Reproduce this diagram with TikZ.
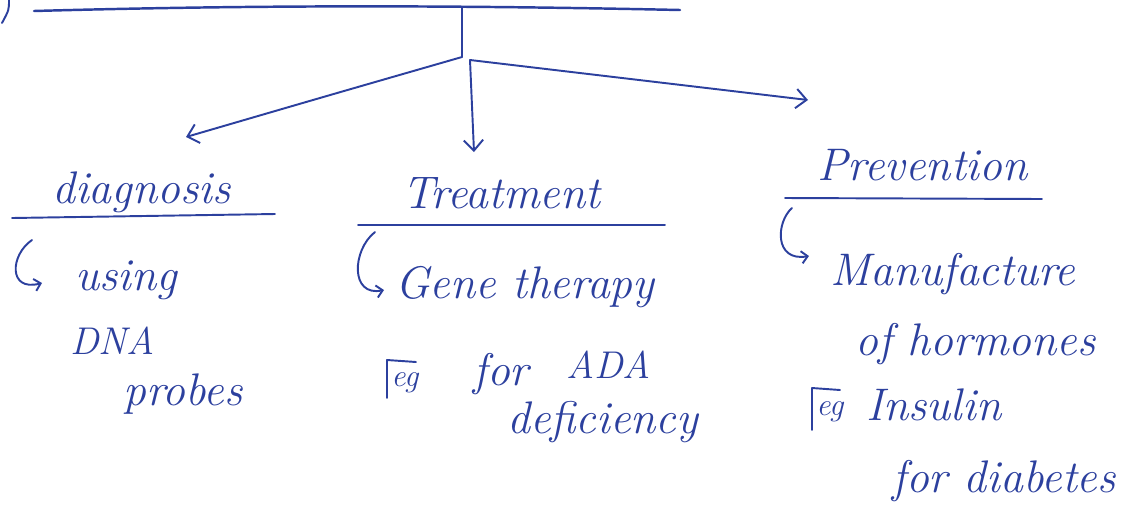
\documentclass[tikz,border=0pt]{standalone}
\usepackage{fontspec}
\usetikzlibrary{arrows.meta}
\definecolor{ink}{RGB}{44,64,158}
\begin{document}
\begin{tikzpicture}[x=0.02cm,y=-0.02cm,
  pen/.style={draw=ink,line width=1.1pt,line cap=round,line join=round},
  barb/.style={-{Straight Barb[length=6pt,width=11pt]}},
  hookbarb/.style={-{Straight Barb[length=3.5pt,width=7pt]}},
  word/.style={text=ink,inner sep=0pt,anchor=base west,font=\fontsize{26}{30}\selectfont\itshape},
  caps/.style={word,font=\fontsize{22}{24}\selectfont\itshape\addfontfeature{LetterSpace=30}},
  egtext/.style={word,font=\fontsize{18}{20}\selectfont\itshape}]
\useasboundingbox (0,0) rectangle (1122,508);

% end of a bracket at the top left
\draw[pen] (9,0) .. controls (9,10) .. (2,23);

% top bar and stem
\coordinate (barL) at (34,11);
\coordinate (barR) at (680,10);
\coordinate (stemtop) at (462,8);
\coordinate (hub) at (462,57);
\coordinate (hubR) at (470,60);
\draw[pen,line width=1.4pt] (barL) .. controls (250,5) and (450,5) .. (barR);
\draw[pen] (stemtop) -- (hub);

% three branches
\coordinate (toDiag) at (186,137);
\coordinate (toTreat) at (474,152);
\coordinate (toPrev) at (808,100);
\draw[pen,barb] (hub) .. controls (330,95) .. (toDiag);
\draw[pen,barb] (hubR) -- (toTreat);
\draw[pen,barb] (hubR) -- (toPrev);

% diagnosis column
\node[word] (diag) at (52,203) {diagnosis};
\draw[pen] (12,218) -- (275,214);
\draw[pen,hookbarb] (32,240) .. controls (10,255) and (8,292) .. (42,283);
\node[word] (using) at (75,290) {using};
\node[caps] (dna) at (70,354) {DNA};
\node[word] (probes) at (123,405) {probes};

% treatment column
\node[word] (treat) at (402,208) {Treatment};
\draw[pen] (358,225) -- (665,225);
\draw[pen,hookbarb] (375,232) .. controls (352,250) and (350,297) .. (384,290);
\node[word] (gene) at (395,298) {Gene therapy};
\draw[pen] (387,398) -- (387,360) -- (416,362);
\node[egtext] (eg1) at (391,386) {eg};
\node[word] (for1) at (473,385) {for};
\node[caps] (ada) at (566,378) {ADA};
\node[word] (defic) at (507,433) {deficiency};

% prevention column
\node[word] (prev) at (817,180) {Prevention};
\draw[pen] (785,198) -- (1042,199);
\draw[pen,hookbarb] (792,208) .. controls (776,222) and (774,262) .. (809,256);
\node[word] (manu) at (830,285) {Manufacture};
\node[word] (horm) at (855,355) {of hormones};
\draw[pen] (812,430) -- (812,388) -- (840,390);
\node[egtext] (eg2) at (816,415) {eg};
\node[word] (insul) at (866,420) {Insulin};
\node[word] (diab) at (892,492) {for diabetes};
\end{tikzpicture}
\end{document}
